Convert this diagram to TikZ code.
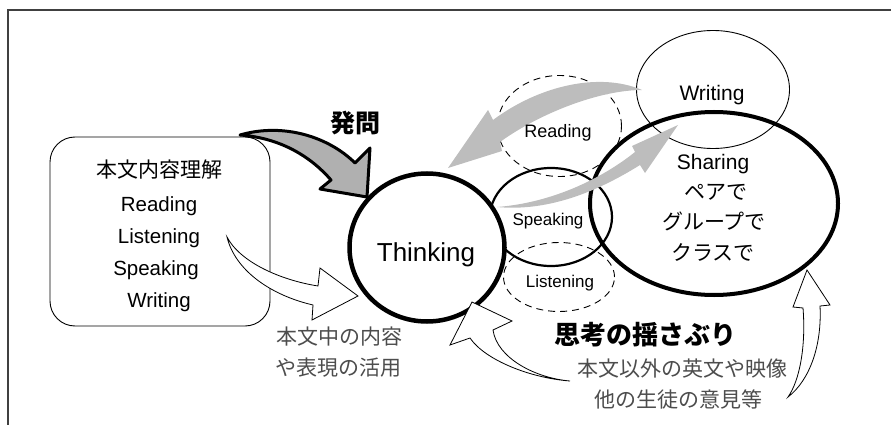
\documentclass[tikz,border=0pt]{standalone}
\usepackage{fontspec}
\setmainfont{Liberation Sans}
\newfontfamily\cjk{Noto Sans CJK JP}
\usetikzlibrary{shapes.geometric}
\definecolor{framegray}{HTML}{404040}
\definecolor{headfill}{HTML}{B0B0B0}
\definecolor{arrowgray}{HTML}{BDBDBD}
\definecolor{textgray}{HTML}{4D4D4D}
\begin{document}
\begin{tikzpicture}[x=1pt,y=-1pt,
  ell/.style={ellipse, draw, inner sep=0pt, outer sep=0pt},
  dashell/.style={ell, line width=0.9pt, dash pattern=on 7pt off 5pt},
  lbl/.style={anchor=base, inner sep=0pt},
  whitearrow/.style={draw, fill=white, line width=0.8pt, line join=miter},
  grayarrow/.style={fill=arrowgray, draw=none},
]
\useasboundingbox (0,0) rectangle (891,425);
% frame
\draw[framegray, line width=1.5pt] (8,425) -- (8,10) -- (891,10);

% text box
\node[draw, rounded corners=25pt, line width=0.9pt, minimum width=220pt, minimum height=189pt, inner sep=0pt] (box) at (160,231.5) {};

% white arrow from box to Thinking
\path[whitearrow] (227,237) .. controls (240,262) and (280,280) .. (318,286) -- (320,268) -- (358,296) -- (312,320) -- (313,305) .. controls (270,295) and (235,270) .. (227,237) -- cycle;

% 発問 arrow
\path[draw, fill=headfill, line width=3pt, line join=round] (240,135) .. controls (285,122) and (330,138) .. (355,163) -- (370,148) -- (367,197) -- (320,189) -- (331,180) .. controls (312,158) and (282,138) .. (240,135) -- cycle;

% ellipses
\node[ell, line width=2.2pt, minimum width=122pt, minimum height=98pt] (speak) at (551,217) {};
\node[dashell, minimum width=124pt, minimum height=101pt] (readc) at (559.5,126) {};
\node[dashell, minimum width=111pt, minimum height=69pt] (listc) at (559,277) {};
\node[ell, line width=0.9pt, minimum width=153pt, minimum height=118pt] (writec) at (713,89.5) {};
\node[ell, line width=4pt, minimum width=248pt, minimum height=183pt] (share) at (714,203.5) {};
\node[ell, line width=4.5pt, fill=white, minimum width=155pt, minimum height=148pt] (think) at (427,247.5) {};

% gray arrows
\path[grayarrow] (642,90) .. controls (600,72) and (540,85) .. (493,120) -- (488,110) -- (448,168) -- (502,151) -- (500,142) .. controls (540,113) and (600,90) .. (642,90) -- cycle;
\path[grayarrow] (497,207) .. controls (550,203) and (600,180) .. (635,152) -- (632,146) -- (678,125) -- (645,173) -- (640,165) .. controls (600,190) and (550,212) .. (497,207) -- cycle;

% bottom white arrows
\path[whitearrow] (570,381) .. controls (530,378) and (485,360) .. (470,338) -- (450,345) -- (472,302) -- (512,321) -- (493,330) .. controls (497,358) and (535,378) .. (570,381) -- cycle;
\path[whitearrow] (788,397) .. controls (800,380) and (806,345) .. (803,308) -- (793,307) -- (807,270) -- (830,305) -- (820,306) .. controls (822,345) and (810,380) .. (788,397) -- cycle;

% texts in box
\node[lbl, font=\cjk\fontsize{21}{21}\selectfont] (t1) at (159,177) {本文内容理解};
\node[lbl, font=\fontsize{20.5}{20.5}\selectfont] (t2) at (159,211) {Reading};
\node[lbl, font=\fontsize{20.5}{20.5}\selectfont] (t3) at (159,243) {Listening};
\node[lbl, font=\fontsize{20.5}{20.5}\selectfont] (t4) at (156,275) {Speaking};
\node[lbl, font=\fontsize{20.5}{20.5}\selectfont] (t5) at (159,307) {Writing};

\node[lbl, font=\fontsize{26}{26}\selectfont] (tthink) at (426,261) {Thinking};
\node[lbl, font=\cjk\bfseries\fontsize{25}{25}\selectfont] (thatsu) at (355,132) {発問};

\node[lbl, font=\fontsize{18}{18}\selectfont] (tread) at (558,137) {Reading};
\node[lbl, font=\fontsize{17}{17}\selectfont] (tspeak) at (548,225) {Speaking};
\node[lbl, font=\fontsize{17}{17}\selectfont] (tlist) at (560,287) {Listening};
\node[lbl, font=\fontsize{21}{21}\selectfont] (twrite) at (712,101) {Writing};
\node[lbl, font=\fontsize{21}{21}\selectfont] (tshare) at (713,169) {Sharing};
\node[lbl, font=\cjk\fontsize{21}{21}\selectfont] (tpair) at (716,199) {ペアで};
\node[lbl, font=\cjk\fontsize{21}{21}\selectfont] (tgroup) at (714,229) {グループで};
\node[lbl, font=\cjk\fontsize{21}{21}\selectfont] (tclass) at (713,260) {クラスで};

\node[lbl, font=\cjk\bfseries\fontsize{26}{26}\selectfont] (tshikou) at (645,344) {思考の揺さぶり};
\node[lbl, text=textgray, font=\cjk\fontsize{21}{21}\selectfont] (tother1) at (682,376) {本文以外の英文や映像};
\node[lbl, text=textgray, font=\cjk\fontsize{21}{21}\selectfont] (tother2) at (678,407) {他の生徒の意見等};
\node[lbl, anchor=base west, text=textgray, font=\cjk\fontsize{21}{21}\selectfont] (tuse1) at (276,344) {本文中の内容};
\node[lbl, anchor=base west, text=textgray, font=\cjk\fontsize{21}{21}\selectfont] (tuse2) at (275,375) {や表現の活用};
\end{tikzpicture}
\end{document}
